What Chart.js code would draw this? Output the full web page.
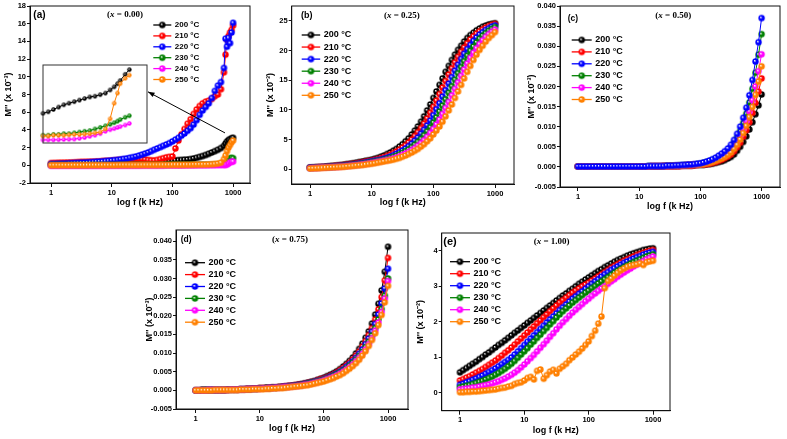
<!DOCTYPE html>
<html>
<head>
<meta charset="utf-8">
<script src="https://cdn.jsdelivr.net/npm/chart.js@4.4.0/dist/chart.umd.min.js"></script>
<style>
  body { margin: 0; background: #fff; width: 787px; height: 439px; overflow: hidden; position: relative; }
  canvas { position: absolute; left: 0; top: 0; }
  #inset { left: 40px; top: 62px; }
</style>
</head>
<body>
<canvas id="ca" width="787" height="439"></canvas>
<canvas id="cb" width="787" height="439"></canvas>
<canvas id="cc" width="787" height="439"></canvas>
<canvas id="cd" width="787" height="439"></canvas>
<canvas id="ce" width="787" height="439"></canvas>
<canvas id="inset" width="110" height="84"></canvas>
<script>
// Series labels and colours
const temps = ['200 °C', '210 °C', '220 °C', '230 °C', '240 °C', '250 °C'];
const colors = ['#000000', '#ff0000', '#0000ff', '#008000', '#ff00ff', '#ff8000'];

// Frequencies (kHz)
const freq = [1, 1.12, 1.26, 1.41, 1.58, 1.78, 2, 2.24, 2.51, 2.82, 3.16, 3.55, 3.98, 4.47, 5.01, 5.62, 6.31, 7.08, 7.94, 8.91,
  10, 11.2, 12.6, 14.1, 15.8, 17.8, 20, 22.4, 25.1, 28.2, 31.6, 35.5, 39.8, 44.7, 50.1, 56.2, 63.1, 70.8, 79.4, 89.1,
  100, 112, 126, 141, 158, 178, 200, 224, 251, 282, 316, 355, 398, 447, 501, 562, 631, 708, 794, 891, 1000];
const freqA = [1, 1.12, 1.26, 1.41, 1.58, 1.78, 2, 2.24, 2.51, 2.82, 3.16, 3.55, 3.98, 4.47, 5.01, 5.62, 6.31, 7.08, 7.94, 8.91,
  10, 11.2, 12.6, 14.1, 15.8, 17.8, 20, 22.4, 25.1, 28.2, 31.6, 35.5, 39.8, 44.7, 50.1, 56.2, 63.1, 70.8, 79.4, 89.1,
  100, 112, 126, 141, 158, 178, 200, 224, 251, 282, 316, 355, 398, 447, 501, 562, 631, 708, 750, 794, 841, 891, 944, 1000];

// Tick values
const xTicks = [1, 10, 100, 1000];
const aTicks = [-2, 0, 2, 4, 6, 8, 10, 12, 14, 16, 18];
const bTicks = [0, 5, 10, 15, 20, 25];
const cTicks = [-0.005, 0, 0.005, 0.010, 0.015, 0.020, 0.025, 0.030, 0.035, 0.040];
const dTicks = [-0.005, 0, 0.005, 0.010, 0.015, 0.020, 0.025, 0.030, 0.035, 0.040];
const eTicks = [0, 1, 2, 3, 4];

// (a) x = 0.00
const a200 = [0.05, 0.05, 0.05, 0.06, 0.06, 0.06, 0.06, 0.07, 0.07, 0.07, 0.08, 0.08, 0.08, 0.09, 0.09, 0.1, 0.1, 0.1, 0.11, 0.12,
  0.12, 0.13, 0.14, 0.15, 0.16, 0.17, 0.18, 0.2, 0.21, 0.23, 0.25, 0.27, 0.3, 0.33, 0.36, 0.39, 0.42, 0.45, 0.48, 0.5,
  0.53, 0.55, 0.58, 0.6, 0.63, 0.66, 0.7, 0.77, 0.85, 0.95, 1.05, 1.17, 1.3, 1.45, 1.6, 1.75, 1.95,
  2.2, 2.45, 2.7, 2.85, 2.95, 3.05, 3.1];
const a210 = [0.25, 0.26, 0.28, 0.29, 0.3, 0.31, 0.32, 0.33, 0.34, 0.36, 0.38, 0.39, 0.4, 0.41, 0.42, 0.44, 0.45, 0.48, 0.5, 0.52,
  0.55, 0.57, 0.6, 0.62, 0.65, 0.68, 0.7, 0.72, 0.75, 0.72, 0.7, 0.65, 0.6, 0.57, 0.55, 0.6, 0.7, 0.8, 0.9, 0.95,
  1.0, 1.9, 2.8, 3.5, 4.1, 4.7, 5.2, 5.8, 6.3, 6.7, 7.0, 7.2, 7.3, 7.5, 7.8, 8.0, 8.6,
  10.5, 12.5, 14.2, 14.6, 15.0, 15.3, 15.8];
const a220 = [0.15, 0.16, 0.17, 0.18, 0.2, 0.21, 0.23, 0.24, 0.26, 0.28, 0.3, 0.31, 0.33, 0.35, 0.37, 0.4, 0.42, 0.45, 0.48, 0.51,
  0.55, 0.58, 0.62, 0.67, 0.72, 0.78, 0.85, 0.92, 1.0, 1.1, 1.2, 1.32, 1.45, 1.6, 1.75, 1.9, 2.05, 2.2, 2.35, 2.5,
  2.7, 2.9, 3.1, 3.35, 3.6, 3.9, 4.2, 4.6, 5.1, 5.7, 6.2, 6.6, 7.0, 7.6, 8.4, 9.0, 9.4,
  11.0, 14.3, 13.4, 14.4, 13.8, 15.0, 16.1];
const a230 = [0.02, 0.02, 0.02, 0.02, 0.02, 0.02, 0.02, 0.02, 0.02, 0.02, 0.02, 0.02, 0.02, 0.03, 0.03, 0.03, 0.03, 0.03, 0.03, 0.03,
  0.03, 0.03, 0.03, 0.04, 0.04, 0.04, 0.04, 0.04, 0.04, 0.04, 0.04, 0.05, 0.05, 0.05, 0.05, 0.05, 0.05, 0.05, 0.05, 0.06,
  0.06, 0.06, 0.06, 0.06, 0.06, 0.07, 0.07, 0.07, 0.07, 0.08, 0.08, 0.08, 0.08, 0.09, 0.1, 0.11, 0.12,
  0.15, 0.2, 0.35, 0.6, 0.8, 0.82, 0.8];
const a240 = [-0.05, -0.05, -0.05, -0.05, -0.05, -0.05, -0.05, -0.05, -0.05, -0.05, -0.05, -0.05, -0.05, -0.05, -0.05, -0.05, -0.05, -0.05, -0.05, -0.05,
  -0.04, -0.04, -0.04, -0.04, -0.04, -0.04, -0.04, -0.04, -0.04, -0.04, -0.03, -0.03, -0.03, -0.03, -0.03, -0.03, -0.03, -0.03, -0.02, -0.02,
  -0.02, -0.02, -0.02, -0.02, -0.01, -0.01, -0.01, -0.01, 0, 0, 0, 0, 0.01, 0.01, 0.01, 0.02, 0.02,
  0.03, 0.05, 0.08, 0.2, 0.35, 0.4, 0.42];
const a250 = [0, 0, 0, 0, 0, 0, 0, 0, 0, 0, 0, 0, 0.01, 0.01, 0.01, 0.01, 0.01, 0.01, 0.01, 0.01,
  0.01, 0.01, 0.02, 0.02, 0.02, 0.02, 0.02, 0.02, 0.02, 0.02, 0.03, 0.03, 0.03, 0.03, 0.03, 0.03, 0.04, 0.04, 0.04, 0.04,
  0.05, 0.05, 0.05, 0.05, 0.06, 0.06, 0.06, 0.07, 0.07, 0.08, 0.08, 0.09, 0.1, 0.12, 0.15, 0.2, 0.3,
  0.7, 1.1, 1.6, 2.0, 2.3, 2.6, 2.8];

// (a) inset (relative position, arbitrary height units)
const insetX = [0, 0.05, 0.1, 0.15, 0.2, 0.25, 0.3, 0.35, 0.4, 0.45, 0.5, 0.55, 0.6, 0.645, 0.684, 0.716, 0.742, 0.79, 0.83];
const inset200 = [3.8, 4.0, 4.3, 4.6, 4.9, 5.1, 5.3, 5.5, 5.7, 5.9, 6.0, 6.2, 6.4, 6.8, 7.2, 7.6, 8.0, 8.8, 9.4];
const inset230 = [1.0, 1.0, 1.1, 1.1, 1.2, 1.2, 1.3, 1.4, 1.5, 1.6, 1.8, 2.0, 2.2, 2.4, 2.6, 2.8, 3.0, 3.3, 3.5];
const inset240 = [0.4, 0.4, 0.4, 0.42, 0.45, 0.48, 0.5, 0.6, 0.7, 0.85, 1.0, 1.2, 1.5, 1.7, 1.85, 2.0, 2.1, 2.3, 2.5];
const inset250 = [0.9, 0.9, 1.0, 1.0, 1.0, 1.05, 1.1, 1.1, 1.15, 1.2, 1.3, 1.4, 1.8, 3.1, 5.1, 6.4, 7.6, 8.3, 8.7];
const arrowFrom = [736, 3.66];
const arrowTo = [39.6, 8.3];

// (b) x = 0.25
const b200 = [0.3, 0.32, 0.35, 0.37, 0.4, 0.45, 0.5, 0.55, 0.6, 0.65, 0.7, 0.77, 0.85, 0.92, 1.0, 1.1, 1.2, 1.3, 1.4, 1.5,
  1.6, 1.75, 1.9, 2.1, 2.3, 2.55, 2.8, 3.1, 3.4, 3.8, 4.2, 4.7, 5.2, 5.85, 6.5, 7.2, 8.0, 8.9, 9.9, 10.9,
  12.0, 13.1, 14.2, 15.3, 16.4, 17.4, 18.4, 19.3, 20.1, 20.8, 21.5, 22.1, 22.6, 23.0, 23.4, 23.7, 24.0, 24.2, 24.4, 24.5, 24.6];
const b210 = [0.28, 0.29, 0.31, 0.34, 0.36, 0.39, 0.43, 0.48, 0.53, 0.58, 0.63, 0.69, 0.75, 0.82, 0.89, 0.97, 1.06, 1.16, 1.26, 1.36,
  1.46, 1.56, 1.69, 1.84, 2.02, 2.22, 2.45, 2.7, 2.98, 3.28, 3.64, 4.04, 4.5, 5.0, 5.59, 6.24, 6.92, 7.68, 8.54, 9.5,
  10.5, 11.56, 12.66, 13.76, 14.86, 15.96, 17.0, 18.0, 18.94, 19.78, 20.52, 21.22, 21.86, 22.4, 22.84, 23.24, 23.58, 23.88, 24.12, 24.32, 24.46];
const b220 = [0.25, 0.27, 0.28, 0.3, 0.33, 0.35, 0.38, 0.41, 0.46, 0.51, 0.56, 0.61, 0.66, 0.72, 0.79, 0.86, 0.94, 1.02, 1.12, 1.22,
  1.32, 1.42, 1.52, 1.63, 1.78, 1.94, 2.14, 2.35, 2.6, 2.86, 3.16, 3.48, 3.88, 4.3, 4.8, 5.33, 5.98, 6.64, 7.36, 8.18,
  9.1, 10.1, 11.12, 12.22, 13.32, 14.42, 15.52, 16.6, 17.6, 18.58, 19.46, 20.24, 20.94, 21.62, 22.2, 22.68, 23.08, 23.46, 23.76, 24.04, 24.24];
const b230 = [0.2, 0.22, 0.24, 0.26, 0.29, 0.32, 0.34, 0.37, 0.39, 0.44, 0.49, 0.54, 0.59, 0.64, 0.71, 0.76, 0.83, 0.91, 0.98, 1.08,
  1.18, 1.28, 1.38, 1.48, 1.58, 1.72, 1.87, 2.06, 2.26, 2.5, 2.75, 3.04, 3.34, 3.72, 4.12, 4.6, 5.1, 5.72, 6.37, 7.06,
  7.84, 8.72, 9.7, 10.7, 11.78, 12.88, 13.98, 15.08, 16.18, 17.2, 18.2, 19.12, 19.94, 20.66, 21.36, 21.98, 22.5, 22.92, 23.32, 23.64, 23.94];
const b240 = [0.16, 0.18, 0.2, 0.23, 0.26, 0.28, 0.31, 0.33, 0.36, 0.38, 0.42, 0.47, 0.52, 0.57, 0.62, 0.68, 0.73, 0.8, 0.88, 0.95,
  1.04, 1.14, 1.24, 1.34, 1.44, 1.54, 1.66, 1.81, 1.98, 2.18, 2.4, 2.65, 2.92, 3.22, 3.56, 3.96, 4.4, 4.9, 5.46, 6.11,
  6.78, 7.52, 8.36, 9.3, 10.3, 11.34, 12.44, 13.54, 14.64, 15.74, 16.8, 17.8, 18.76, 19.62, 20.38, 21.08, 21.74, 22.3, 22.76, 23.16, 23.52];
const b250 = [0.12, 0.14, 0.16, 0.18, 0.21, 0.24, 0.27, 0.3, 0.32, 0.35, 0.37, 0.4, 0.45, 0.5, 0.55, 0.6, 0.65, 0.7, 0.77, 0.85,
  0.92, 1.0, 1.1, 1.2, 1.3, 1.4, 1.5, 1.6, 1.75, 1.9, 2.1, 2.3, 2.55, 2.8, 3.1, 3.4, 3.8, 4.2, 4.7, 5.2,
  5.85, 6.5, 7.2, 8.0, 8.9, 9.9, 10.9, 12.0, 13.1, 14.2, 15.3, 16.4, 17.4, 18.4, 19.3, 20.1, 20.8, 21.5, 22.1, 22.6, 23.1];

// (c) x = 0.50
const c200 = [0.0001, 0.0001, 0.0001, 0.0001, 0.0001, 0.0001, 0.0001, 0.0001, 0.0001, 0.0001, 0.0001, 0.0001, 0.0001, 0.0001, 0.0001, 0.0001, 0.0001, 0.0001, 0.0001, 0.0001,
  0.0001, 0.0001, 0.0001, 0.0001, 0.0001, 0.0001, 0.0001, 0.0001, 0.0002, 0.0002, 0.0002, 0.0002, 0.0002, 0.0002, 0.0003, 0.0003, 0.0003, 0.0003, 0.0004, 0.0005,
  0.0005, 0.0005, 0.0006, 0.0007, 0.0008, 0.001, 0.0012, 0.0014, 0.0017, 0.0021, 0.0025, 0.0031, 0.004, 0.005, 0.0062, 0.0076, 0.0093, 0.0111, 0.0131, 0.0153, 0.018];
const c210 = [0.0001, 0.0001, 0.0001, 0.0001, 0.0001, 0.0001, 0.0001, 0.0001, 0.0001, 0.0001, 0.0001, 0.0001, 0.0001, 0.0001, 0.0001, 0.0001, 0.0001, 0.0001, 0.0001, 0.0001,
  0.0001, 0.0001, 0.0001, 0.0001, 0.0001, 0.0001, 0.0001, 0.0001, 0.0002, 0.0002, 0.0002, 0.0002, 0.0002, 0.0002, 0.0003, 0.0003, 0.0003, 0.0003, 0.0004, 0.0005,
  0.0006, 0.0006, 0.0007, 0.0008, 0.001, 0.0012, 0.0015, 0.0018, 0.0022, 0.0026, 0.0031, 0.0039, 0.0049, 0.006, 0.0075, 0.0091, 0.0111, 0.0134, 0.0159, 0.0187, 0.022];
const c220 = [0.0001, 0.0001, 0.0001, 0.0001, 0.0001, 0.0001, 0.0001, 0.0001, 0.0001, 0.0001, 0.0001, 0.0001, 0.0001, 0.0001, 0.0001, 0.0001, 0.0001, 0.0001, 0.0001, 0.0001,
  0.0001, 0.0001, 0.0001, 0.0002, 0.0002, 0.0002, 0.0002, 0.0002, 0.0002, 0.0003, 0.0003, 0.0003, 0.0004, 0.0004, 0.0005, 0.0005, 0.0006, 0.0006, 0.0007, 0.0008,
  0.0009, 0.0011, 0.0013, 0.0016, 0.0019, 0.0023, 0.0028, 0.0033, 0.0039, 0.0046, 0.0055, 0.0067, 0.0082, 0.01, 0.0122, 0.0147, 0.0178, 0.0216, 0.0262, 0.031, 0.037];
const c230 = [0.0001, 0.0001, 0.0001, 0.0001, 0.0001, 0.0001, 0.0001, 0.0001, 0.0001, 0.0001, 0.0001, 0.0001, 0.0001, 0.0001, 0.0001, 0.0001, 0.0001, 0.0001, 0.0001, 0.0001,
  0.0001, 0.0001, 0.0001, 0.0002, 0.0002, 0.0002, 0.0002, 0.0002, 0.0002, 0.0003, 0.0003, 0.0003, 0.0003, 0.0004, 0.0004, 0.0005, 0.0005, 0.0006, 0.0006, 0.0007,
  0.0008, 0.001, 0.0012, 0.0014, 0.0017, 0.0021, 0.0025, 0.0029, 0.0034, 0.0041, 0.0049, 0.006, 0.0073, 0.0089, 0.0109, 0.0132, 0.016, 0.0194, 0.0234, 0.0279, 0.033];
const c240 = [0.0001, 0.0001, 0.0001, 0.0001, 0.0001, 0.0001, 0.0001, 0.0001, 0.0001, 0.0001, 0.0001, 0.0001, 0.0001, 0.0001, 0.0001, 0.0001, 0.0001, 0.0001, 0.0001, 0.0001,
  0.0001, 0.0001, 0.0001, 0.0001, 0.0002, 0.0002, 0.0002, 0.0002, 0.0002, 0.0002, 0.0002, 0.0002, 0.0003, 0.0003, 0.0003, 0.0004, 0.0005, 0.0005, 0.0006, 0.0006,
  0.0007, 0.0008, 0.001, 0.0012, 0.0014, 0.0017, 0.002, 0.0024, 0.0029, 0.0035, 0.0041, 0.005, 0.0062, 0.0077, 0.0094, 0.0114, 0.0138, 0.0166, 0.02, 0.0238, 0.028];
const c250 = [0.0001, 0.0001, 0.0001, 0.0001, 0.0001, 0.0001, 0.0001, 0.0001, 0.0001, 0.0001, 0.0001, 0.0001, 0.0001, 0.0001, 0.0001, 0.0001, 0.0001, 0.0001, 0.0001, 0.0001,
  0.0001, 0.0001, 0.0001, 0.0001, 0.0002, 0.0002, 0.0002, 0.0002, 0.0002, 0.0002, 0.0002, 0.0002, 0.0003, 0.0003, 0.0003, 0.0004, 0.0005, 0.0005, 0.0006, 0.0006,
  0.0006, 0.0007, 0.0009, 0.001, 0.0012, 0.0015, 0.0018, 0.0021, 0.0025, 0.003, 0.0036, 0.0045, 0.0055, 0.0068, 0.0084, 0.0102, 0.0124, 0.0149, 0.0179, 0.0212, 0.025];

// (d) x = 0.75
const d200 = [0, 0, 0.0001, 0.0001, 0.0001, 0.0001, 0.0001, 0.0001, 0.0001, 0.0001, 0.0002, 0.0002, 0.0002, 0.0002, 0.0003, 0.0003, 0.0004, 0.0004, 0.0005, 0.0005,
  0.0006, 0.0006, 0.0007, 0.0007, 0.0008, 0.0008, 0.0009, 0.001, 0.0011, 0.0012, 0.0013, 0.0014, 0.0016, 0.0017, 0.0019, 0.0021, 0.0023, 0.0025, 0.0028, 0.0031,
  0.0034, 0.0038, 0.0042, 0.0046, 0.0051, 0.0057, 0.0064, 0.0071, 0.0079, 0.0088, 0.0099, 0.0111, 0.0125, 0.0141, 0.0158, 0.0179, 0.0203, 0.0232, 0.0268, 0.0318, 0.0385];
const d210 = [0, 0, 0.0001, 0.0001, 0.0001, 0.0001, 0.0001, 0.0001, 0.0001, 0.0001, 0.0002, 0.0002, 0.0002, 0.0002, 0.0003, 0.0003, 0.0004, 0.0004, 0.0005, 0.0005,
  0.0006, 0.0006, 0.0007, 0.0007, 0.0008, 0.0008, 0.0009, 0.001, 0.0011, 0.0012, 0.0013, 0.0014, 0.0015, 0.0016, 0.0018, 0.002, 0.0022, 0.0024, 0.0027, 0.003,
  0.0032, 0.0035, 0.0039, 0.0043, 0.0048, 0.0054, 0.006, 0.0067, 0.0074, 0.0083, 0.0093, 0.0104, 0.0117, 0.0132, 0.0148, 0.0167, 0.019, 0.0217, 0.025, 0.0295, 0.0355];
const d220 = [0, 0, 0.0001, 0.0001, 0.0001, 0.0001, 0.0001, 0.0001, 0.0001, 0.0001, 0.0002, 0.0002, 0.0002, 0.0002, 0.0003, 0.0003, 0.0003, 0.0003, 0.0004, 0.0004,
  0.0005, 0.0005, 0.0006, 0.0006, 0.0007, 0.0007, 0.0008, 0.0009, 0.001, 0.0011, 0.0012, 0.0013, 0.0014, 0.0015, 0.0017, 0.0019, 0.0021, 0.0023, 0.0025, 0.0027,
  0.003, 0.0033, 0.0037, 0.0041, 0.0045, 0.005, 0.0056, 0.0063, 0.007, 0.0078, 0.0087, 0.0098, 0.011, 0.0124, 0.0139, 0.0157, 0.0178, 0.0203, 0.0233, 0.0273, 0.0326];
const d230 = [0, 0, 0.0001, 0.0001, 0.0001, 0.0001, 0.0001, 0.0001, 0.0001, 0.0001, 0.0001, 0.0002, 0.0002, 0.0002, 0.0002, 0.0002, 0.0003, 0.0003, 0.0004, 0.0004,
  0.0005, 0.0005, 0.0006, 0.0006, 0.0007, 0.0007, 0.0008, 0.0008, 0.0009, 0.001, 0.0011, 0.0012, 0.0013, 0.0014, 0.0016, 0.0018, 0.002, 0.0022, 0.0024, 0.0026,
  0.0029, 0.0032, 0.0035, 0.0039, 0.0043, 0.0048, 0.0053, 0.0059, 0.0066, 0.0074, 0.0082, 0.0092, 0.0103, 0.0116, 0.013, 0.0147, 0.0167, 0.019, 0.0218, 0.0254, 0.030];
const d240 = [0, 0, 0, 0, 0.0001, 0.0001, 0.0001, 0.0001, 0.0001, 0.0001, 0.0001, 0.0002, 0.0002, 0.0002, 0.0002, 0.0002, 0.0003, 0.0003, 0.0004, 0.0004,
  0.0004, 0.0005, 0.0005, 0.0006, 0.0006, 0.0007, 0.0007, 0.0008, 0.0009, 0.0009, 0.001, 0.0011, 0.0012, 0.0013, 0.0015, 0.0016, 0.0018, 0.002, 0.0022, 0.0024,
  0.0027, 0.003, 0.0033, 0.0036, 0.004, 0.0045, 0.005, 0.0056, 0.0062, 0.0069, 0.0078, 0.0087, 0.0098, 0.011, 0.0124, 0.014, 0.016, 0.0182, 0.021, 0.0246, 0.0293];
const d250 = [0, 0, 0, 0, 0, 0, 0.0001, 0.0001, 0.0001, 0.0001, 0.0001, 0.0001, 0.0001, 0.0001, 0.0002, 0.0002, 0.0002, 0.0002, 0.0003, 0.0003,
  0.0003, 0.0003, 0.0004, 0.0004, 0.0005, 0.0005, 0.0006, 0.0006, 0.0007, 0.0008, 0.0009, 0.001, 0.0011, 0.0012, 0.0013, 0.0014, 0.0016, 0.0018, 0.002, 0.0022,
  0.0024, 0.0027, 0.003, 0.0033, 0.0037, 0.0041, 0.0046, 0.0052, 0.0058, 0.0065, 0.0073, 0.0082, 0.0093, 0.0105, 0.0119, 0.0135, 0.0153, 0.0175, 0.0202, 0.0236, 0.028];

// (e) x = 1.00
const e200 = [0.58, 0.64, 0.7, 0.76, 0.82, 0.88, 0.95, 1.01, 1.08, 1.14, 1.21, 1.28, 1.35, 1.41, 1.48, 1.55, 1.62, 1.69, 1.76, 1.83,
  1.9, 1.97, 2.04, 2.11, 2.18, 2.25, 2.32, 2.39, 2.46, 2.53, 2.6, 2.67, 2.74, 2.8, 2.87, 2.93, 3.0, 3.07, 3.13, 3.19,
  3.25, 3.31, 3.37, 3.43, 3.48, 3.54, 3.59, 3.64, 3.69, 3.74, 3.78, 3.82, 3.86, 3.9, 3.93, 3.96, 3.99, 4.02, 4.04, 4.06, 4.07];
const e210 = [0.35, 0.39, 0.43, 0.47, 0.52, 0.57, 0.62, 0.67, 0.73, 0.79, 0.85, 0.91, 0.98, 1.05, 1.13, 1.2, 1.28, 1.36, 1.45, 1.53,
  1.62, 1.7, 1.79, 1.87, 1.96, 2.04, 2.13, 2.21, 2.3, 2.38, 2.46, 2.54, 2.61, 2.68, 2.75, 2.82, 2.88, 2.94, 3.0, 3.05,
  3.1, 3.16, 3.22, 3.28, 3.34, 3.4, 3.46, 3.52, 3.57, 3.62, 3.67, 3.72, 3.76, 3.8, 3.84, 3.88, 3.91, 3.94, 3.97, 4.0, 4.02];
const e220 = [0.23, 0.26, 0.3, 0.33, 0.37, 0.41, 0.45, 0.49, 0.54, 0.59, 0.64, 0.69, 0.75, 0.81, 0.87, 0.93, 1.0, 1.08, 1.17, 1.26,
  1.35, 1.44, 1.53, 1.62, 1.71, 1.8, 1.89, 1.98, 2.07, 2.15, 2.24, 2.33, 2.41, 2.49, 2.57, 2.65, 2.72, 2.79, 2.86, 2.93,
  3.0, 3.07, 3.14, 3.2, 3.27, 3.34, 3.4, 3.46, 3.51, 3.56, 3.61, 3.66, 3.7, 3.74, 3.78, 3.82, 3.85, 3.89, 3.92, 3.95, 3.97];
const e230 = [0.16, 0.18, 0.2, 0.22, 0.25, 0.28, 0.31, 0.34, 0.38, 0.42, 0.46, 0.51, 0.56, 0.62, 0.68, 0.75, 0.82, 0.9, 0.99, 1.08,
  1.17, 1.26, 1.36, 1.45, 1.55, 1.64, 1.74, 1.83, 1.93, 2.02, 2.12, 2.21, 2.3, 2.38, 2.46, 2.54, 2.61, 2.68, 2.75, 2.82,
  2.88, 2.95, 3.01, 3.08, 3.14, 3.2, 3.26, 3.32, 3.38, 3.44, 3.49, 3.54, 3.59, 3.64, 3.68, 3.72, 3.76, 3.8, 3.84, 3.87, 3.9];
const e240 = [0.1, 0.11, 0.12, 0.13, 0.15, 0.16, 0.18, 0.2, 0.22, 0.24, 0.27, 0.3, 0.33, 0.37, 0.41, 0.46, 0.51, 0.57, 0.64, 0.72,
  0.8, 0.89, 0.98, 1.07, 1.17, 1.27, 1.37, 1.47, 1.58, 1.68, 1.79, 1.89, 1.99, 2.08, 2.17, 2.26, 2.34, 2.42, 2.5, 2.58,
  2.65, 2.73, 2.8, 2.87, 2.94, 3.0, 3.07, 3.14, 3.2, 3.27, 3.33, 3.39, 3.45, 3.5, 3.56, 3.61, 3.66, 3.71, 3.76, 3.8, 3.84];
const e250 = [0.02, 0.02, 0.03, 0.03, 0.04, 0.04, 0.05, 0.06, 0.07, 0.08, 0.09, 0.1, 0.12, 0.14, 0.15, 0.18, 0.2, 0.25, 0.28, 0.3,
  0.35, 0.42, 0.45, 0.38, 0.62, 0.66, 0.4, 0.5, 0.6, 0.65, 0.55, 0.68, 0.75, 0.82, 0.92, 1.0, 1.08, 1.16, 1.25, 1.35,
  1.45, 1.6, 1.75, 1.95, 2.15, 2.95, 3.15, 3.22, 3.3, 3.38, 3.45, 3.5, 3.55, 3.58, 3.6, 3.62, 3.65, 3.6, 3.68, 3.7, 3.72];

const FONT = "'Liberation Sans', Arial, sans-serif";
const SERIF = "'Liberation Serif', 'Times New Roman', serif";
const tickFont = { family: FONT, size: 7.5, weight: 'bold' };
const titleFont = { family: FONT, size: 9, weight: 'bold' };

// Shiny ball markers like the original plot
function ball(color, r) {
  const s = Math.ceil(2 * r + 2);
  const c = document.createElement('canvas');
  c.width = c.height = s;
  const g = c.getContext('2d');
  const cx = s / 2, cy = s / 2;
  const grad = g.createRadialGradient(cx - r * 0.3, cy - r * 0.3, 0, cx, cy, r);
  grad.addColorStop(0, '#ffffff');
  grad.addColorStop(0.5, color);
  grad.addColorStop(1, color);
  g.fillStyle = grad;
  g.beginPath();
  g.arc(cx, cy, r, 0, Math.PI * 2);
  g.fill();
  return c;
}
const balls = colors.map(c => ball(c, 3.2));
const smallBalls = colors.map(c => ball(c, 2.2));

const panels = [
  { id: 'ca', label: '(a)', sub: '0.00', yTitle: "M'' (x 10⁻³)", freq: freqA,
    series: [a200, a210, a220, a230, a240, a250], yMin: -2, yMax: 18, yTicks: aTicks, fmt: v => String(v),
    xMin: 0.45, xMax: 1900, box: [30, 250, 6, 183], W: 30, H: 27.7, top: 5,
    lab: [3.3, 9.7, 10], subPos: [-15, 9], leg: [123.3, 19, 10.9, 8, 18], arrow: true },
  { id: 'cb', label: '(b)', sub: '0.25', yTitle: "M'' (x 10⁻³)", freq: freq,
    series: [b200, b210, b220, b230, b240, b250], yMin: -2.5, yMax: 27.5, yTicks: bTicks, fmt: v => String(v),
    xMin: 0.505, xMax: 2030, box: [291.7, 514, 6, 184], W: 29.1, H: 27.1, top: 5,
    lab: [9.3, 9.7, 9], subPos: [-1, 9.7], leg: [10, 29, 12.06, 9, 18.5] },
  { id: 'cc', label: '(c)', sub: '0.50', yTitle: "M'' (x 10⁻³)", freq: freq,
    series: [c200, c210, c220, c230, c240, c250], yMin: -0.005, yMax: 0.040, yTicks: cTicks, fmt: v => v.toFixed(3),
    xMin: 0.508, xMax: 2000, box: [560, 780, 6, 187], W: 36.7, H: 28.1, top: 2,
    lab: [7.7, 12.3, 8.5], subPos: [3.3, 9.7], leg: [11.7, 34, 11.9, 9, 20] },
  { id: 'cd', label: '(d)', sub: '0.75', yTitle: "M'' (x 10⁻³)", freq: freq,
    series: [d200, d210, d220, d230, d240, d250], yMin: -0.005, yMax: 0.043, yTicks: dTicks, fmt: v => v.toFixed(3),
    xMin: 0.493, xMax: 2050, box: [176, 408, 230, 409], W: 34.4, H: 27.7, top: 5,
    lab: [4.7, 10, 8.5], subPos: [-2, 10], leg: [9, 32.7, 11.9, 9, 20] },
  { id: 'ce', label: '(e)', sub: '1.00', yTitle: "M'' (x 10⁻²)", freq: freq,
    series: [e200, e210, e220, e230, e240, e250], yMin: -0.5, yMax: 4.5, yTicks: eTicks, fmt: v => String(v),
    xMin: 0.52, xMax: 1836, box: [441.7, 670, 233, 410.7], W: 29.4, H: 28.7, top: 5,
    lab: [1.6, 8.7, 11], subPos: [-4.2, 8.7], leg: [8.3, 28.7, 12, 9, 20] }
];

function zeroPad(s) {
  s.paddingLeft = 0; s.paddingRight = 0; s.paddingTop = 0; s.paddingBottom = 0;
}

// Frame, panel letter, composition title, legend and arrow
function deco(p) {
  return {
    id: 'deco' + p.id,
    afterDraw(chart) {
      const ctx = chart.ctx;
      const a = chart.chartArea;
      ctx.save();
      ctx.strokeStyle = '#111';
      ctx.lineWidth = 1;
      ctx.strokeRect(a.left, a.top, a.right - a.left, a.bottom - a.top);

      ctx.fillStyle = '#000';
      ctx.textBaseline = 'middle';
      ctx.textAlign = 'left';
      ctx.font = `bold ${p.lab[2]}px ${FONT}`;
      ctx.fillText(p.label, a.left + p.lab[0], a.top + p.lab[1]);

      // (x = 0.00) with italic x
      const parts = [['(', 'bold'], ['x', 'italic bold'], [' = ' + p.sub + ')', 'bold']];
      let w = 0;
      parts.forEach(pt => { ctx.font = `${pt[1]} 9px ${SERIF}`; w += ctx.measureText(pt[0]).width; });
      let x = (a.left + a.right) / 2 + p.subPos[0] - w / 2;
      const y = a.top + p.subPos[1];
      parts.forEach(pt => {
        ctx.font = `${pt[1]} 9px ${SERIF}`;
        ctx.fillText(pt[0], x, y);
        x += ctx.measureText(pt[0]).width;
      });

      // legend
      const [lx, ly, step, fs, len] = p.leg;
      ctx.font = `bold ${fs}px ${FONT}`;
      temps.forEach((t, i) => {
        const xx = a.left + lx, yy = a.top + ly + i * step;
        ctx.strokeStyle = colors[i];
        ctx.lineWidth = 1.3;
        ctx.beginPath();
        ctx.moveTo(xx, yy);
        ctx.lineTo(xx + len, yy);
        ctx.stroke();
        const b = balls[i];
        ctx.drawImage(b, xx + len / 2 - b.width / 2, yy - b.height / 2);
        ctx.fillStyle = '#000';
        ctx.fillText(t, xx + len + 3.5, yy);
      });

      if (p.arrow) {
        const xs = chart.scales.x, ys = chart.scales.y;
        const x1 = xs.getPixelForValue(arrowFrom[0]), y1 = ys.getPixelForValue(arrowFrom[1]);
        const x2 = xs.getPixelForValue(arrowTo[0]), y2 = ys.getPixelForValue(arrowTo[1]);
        ctx.strokeStyle = '#000';
        ctx.fillStyle = '#000';
        ctx.lineWidth = 1;
        ctx.beginPath();
        ctx.moveTo(x1, y1);
        ctx.lineTo(x2, y2);
        ctx.stroke();
        const ang = Math.atan2(y2 - y1, x2 - x1);
        ctx.beginPath();
        ctx.moveTo(x2, y2);
        ctx.lineTo(x2 - 7 * Math.cos(ang - 0.35), y2 - 7 * Math.sin(ang - 0.35));
        ctx.lineTo(x2 - 7 * Math.cos(ang + 0.35), y2 - 7 * Math.sin(ang + 0.35));
        ctx.closePath();
        ctx.fill();
      }
      ctx.restore();
    }
  };
}

function makeChart(p) {
  const [L, R, T, B] = p.box;
  return new Chart(document.getElementById(p.id), {
    type: 'line',
    data: {
      datasets: p.series.map((arr, i) => ({
        label: temps[i],
        data: p.freq.map((f, k) => ({ x: f, y: arr[k] })),
        borderColor: colors[i],
        backgroundColor: colors[i],
        borderWidth: 1,
        pointStyle: balls[i],
        pointRadius: 3.2,
        tension: 0,
        order: i === p.top ? -1 : 5 - i
      }))
    },
    options: {
      responsive: false,
      animation: false,
      events: [],
      layout: { autoPadding: false, padding: { left: L - p.W, right: 787 - R, top: T, bottom: 439 - B - p.H } },
      plugins: { legend: { display: false }, tooltip: { enabled: false } },
      scales: {
        x: {
          type: 'logarithmic', min: p.xMin, max: p.xMax,
          afterBuildTicks: s => { s.ticks = xTicks.map(v => ({ value: v })); },
          afterFit: s => { s.height = p.H; zeroPad(s); },
          ticks: { callback: v => String(v), font: tickFont, color: '#000', padding: 1, maxRotation: 0, autoSkip: false },
          grid: { drawOnChartArea: false, tickLength: 4, color: '#111' },
          border: { color: '#111', width: 1 },
          title: { display: true, text: 'log f (k Hz)', font: titleFont, color: '#000', padding: { top: 0, bottom: 3 } }
        },
        y: {
          type: 'linear', min: p.yMin, max: p.yMax,
          afterBuildTicks: s => { s.ticks = p.yTicks.map(v => ({ value: v })); },
          afterFit: s => { s.width = p.W; zeroPad(s); },
          ticks: { callback: v => p.fmt(v), font: tickFont, color: '#000', padding: 1, autoSkip: false },
          grid: { drawOnChartArea: false, tickLength: 3, color: '#111' },
          border: { color: '#111', width: 1 },
          title: { display: true, text: p.yTitle, font: titleFont, color: '#000', padding: { top: 3, bottom: 0 } }
        }
      }
    },
    plugins: [deco(p)]
  });
}

panels.forEach(makeChart);

// Inset of panel (a)
const insetSeries = [[inset200, 0], [inset230, 3], [inset240, 4], [inset250, 5]];
new Chart(document.getElementById('inset'), {
  type: 'line',
  data: {
    datasets: insetSeries.map(([arr, ci]) => ({
      data: insetX.map((x, k) => ({ x: x, y: arr[k] })),
      borderColor: colors[ci],
      backgroundColor: colors[ci],
      borderWidth: 1,
      pointStyle: smallBalls[ci],
      pointRadius: 2.2,
      clip: false,
      order: ci === 5 ? -1 : 5 - ci
    }))
  },
  options: {
    responsive: false,
    animation: false,
    events: [],
    layout: { autoPadding: false, padding: 3 },
    plugins: { legend: { display: false }, tooltip: { enabled: false } },
    scales: {
      x: { type: 'linear', display: false, min: 0, max: 1 },
      y: { type: 'linear', display: false, min: 0, max: 10 }
    }
  },
  plugins: [{
    id: 'insetFrame',
    beforeDraw(chart) {
      const a = chart.chartArea;
      chart.ctx.fillStyle = '#fff';
      chart.ctx.fillRect(a.left, a.top, a.right - a.left, a.bottom - a.top);
    },
    afterDraw(chart) {
      const a = chart.chartArea;
      chart.ctx.strokeStyle = '#333';
      chart.ctx.lineWidth = 1;
      chart.ctx.strokeRect(a.left, a.top, a.right - a.left, a.bottom - a.top);
    }
  }]
});
</script>
</body>
</html>
